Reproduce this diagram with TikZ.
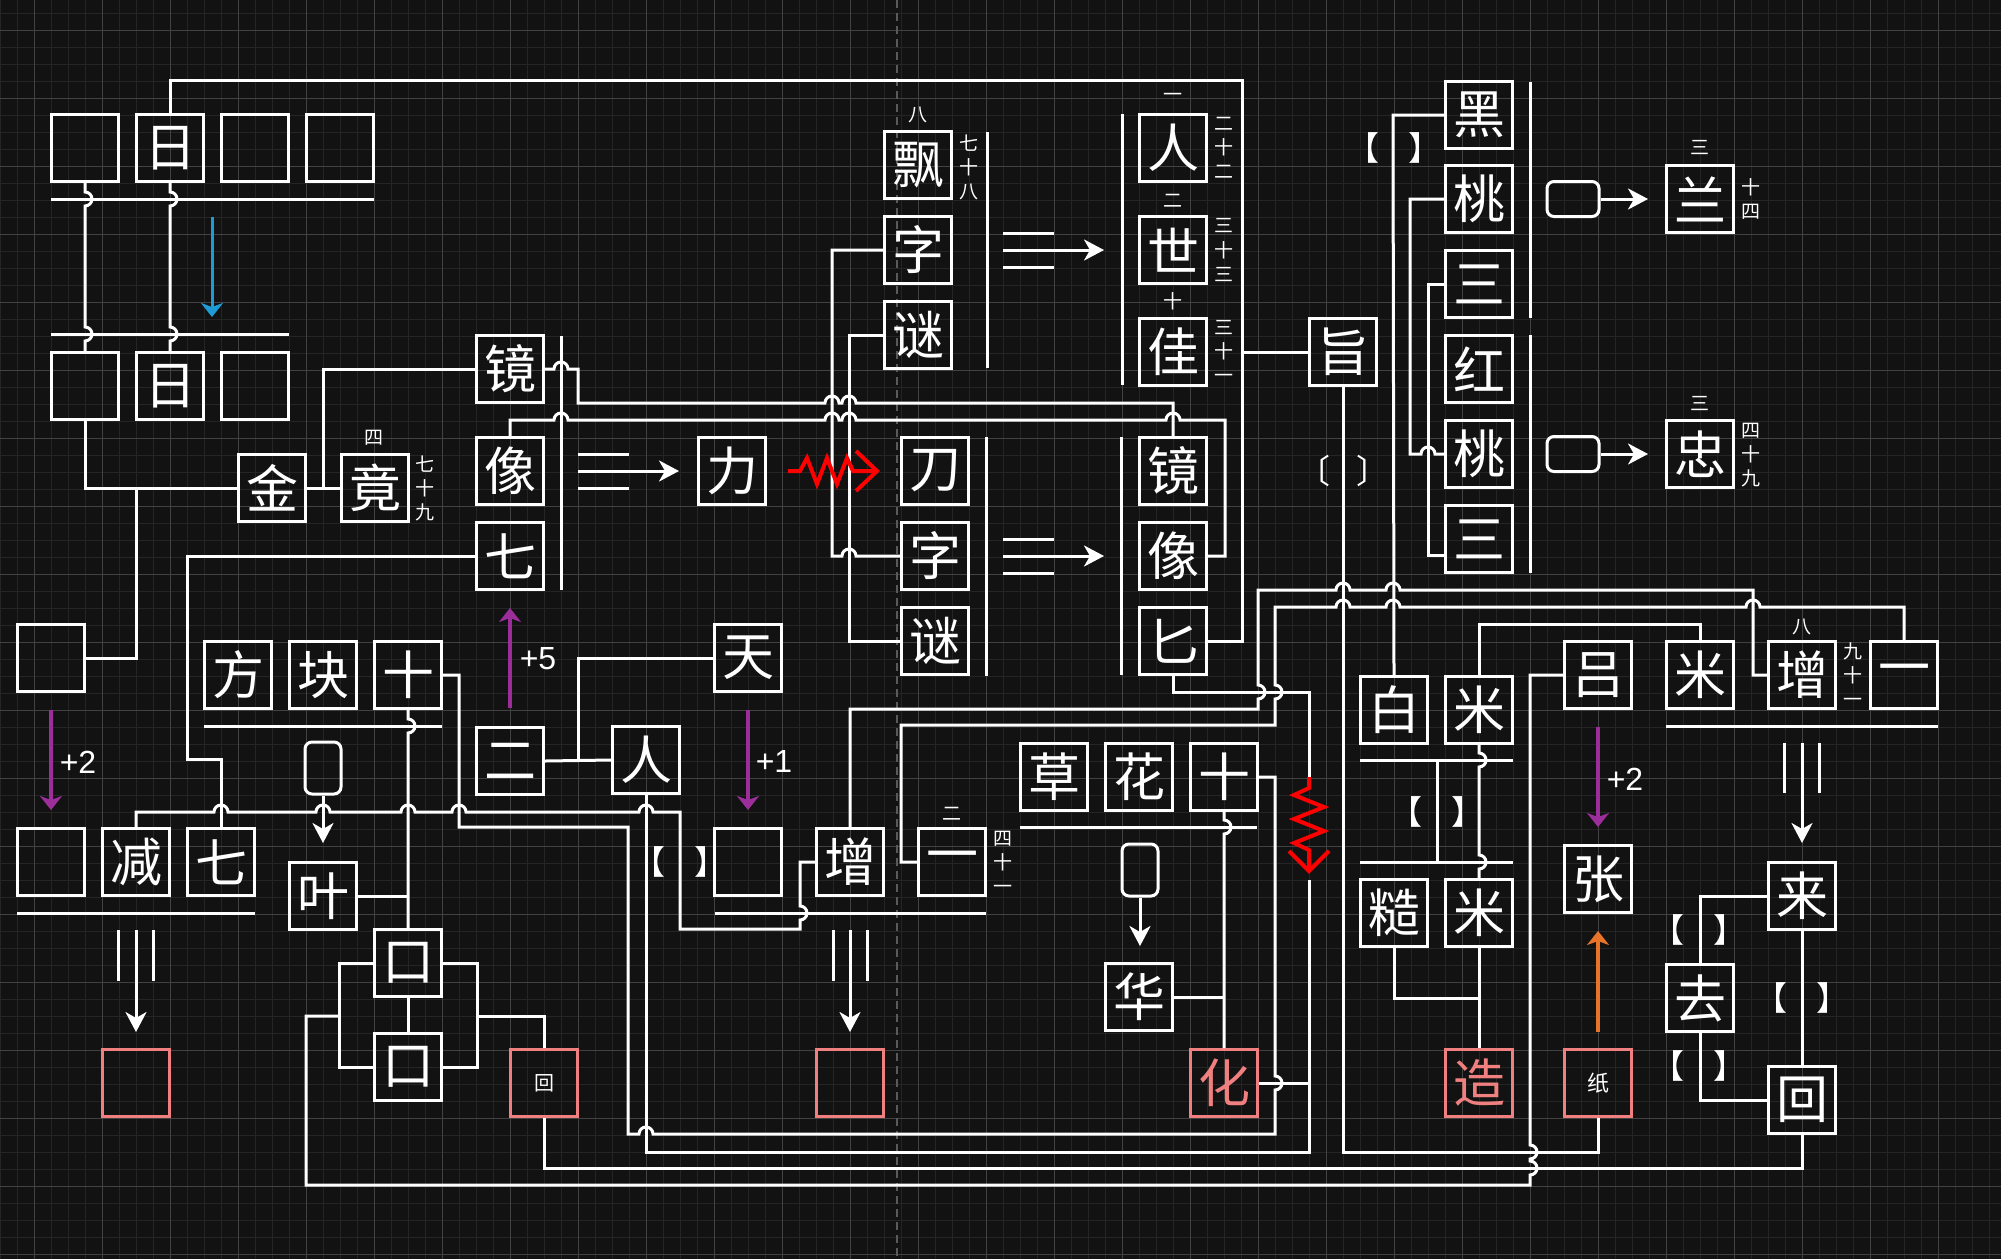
\documentclass[tikz,border=0pt]{standalone}
\usepackage{fontspec}
\setmainfont{Noto Sans CJK SC}
\newfontfamily\latf{Liberation Sans}
\usetikzlibrary{arrows.meta}
\definecolor{bgc}{HTML}{121212}
\definecolor{gmin}{HTML}{252525}
\definecolor{gmaj}{HTML}{424242}
\definecolor{dashc}{HTML}{5A5A5A}
\definecolor{pinkc}{HTML}{F08080}
\definecolor{purc}{HTML}{9C2E9C}
\definecolor{bluc}{HTML}{1E9BD7}
\definecolor{orac}{HTML}{E8742A}
\definecolor{redc}{HTML}{FF0000}
\newcommand\hjR{arc[start angle=180,end angle=360,radius=7]}
\newcommand\vjD{arc[start angle=-90,end angle=90,radius=7]}
\newcommand\vjU{arc[start angle=90,end angle=-90,radius=7]}
\begin{document}
\begin{tikzpicture}[x=1pt,y=-1pt,
 bx/.style={draw=white,line width=3pt,minimum size=67pt,inner sep=0pt,text=white,font=\fontsize{52}{52}\selectfont},
 pk/.style={bx,draw=pinkc},
 rr/.style={draw=white,line width=3pt,rounded corners=7pt,inner sep=0pt},
 rv/.style={rr,minimum width=36pt,minimum height=52pt},
 rh/.style={rr,minimum width=52pt,minimum height=35pt},
 ln/.style={draw=white,line width=3pt},
 ar/.style={draw=white,line width=3pt,-{Stealth[length=20pt,width=21pt,inset=6pt]}},
 car/.style={line width=4pt,-{Stealth[length=14pt,width=22pt,inset=4pt]}},
 lab/.style={text=white,font=\fontsize{19}{24}\selectfont,align=center,inner sep=0pt},
 pl/.style={text=white,font=\latf\fontsize{32}{32}\selectfont,inner sep=0pt},
 bk/.style={text=white,font=\fontsize{33}{33}\selectfont,inner sep=0pt},
 zz/.style={draw=redc,line width=4pt},
]
\useasboundingbox (0,0) rectangle (2001,1259);
\fill[bgc] (0,0) rectangle (2001,1259);
\foreach \i in {0,...,117} \draw[gmin,line width=1pt] ({17*\i},0) -- ({17*\i},1259);
\foreach \j in {0,...,73} \draw[gmin,line width=1pt] (0,{13+17*\j}) -- (2001,{13+17*\j});
\foreach \i in {0,...,28} \draw[gmaj,line width=1pt] ({34+68*\i},0) -- ({34+68*\i},1259);
\foreach \j in {0,...,18} \draw[gmaj,line width=1pt] (0,{30+68*\j}) -- (2001,{30+68*\j});
\draw[dashc,line width=1.5pt,dash pattern=on 8pt off 5pt] (897,0) -- (897,1259);

% ---------- nodes ----------
\node[bx] (t1) at (85,148) {};
\node[bx] (t2) at (170,148) {日};
\node[bx] (t3) at (255,148) {};
\node[bx] (t4) at (340,148) {};
\node[bx] (s1) at (85,386) {};
\node[bx] (s2) at (170,386) {日};
\node[bx] (s3) at (255,386) {};
\node[bx] (jin) at (272,488) {金};
\node[bx] (jing) at (375,488) {竟};
\node[bx] (jingL) at (510,369) {镜};
\node[bx] (xiangL) at (510,471) {像};
\node[bx] (qiL) at (510,556) {七};
\node[bx] (e1) at (51,658) {};
\node[bx] (fang) at (238,675) {方};
\node[bx] (kuai) at (323,675) {块};
\node[bx] (shiL) at (408,675) {十};
\node[rv] (r1) at (323,768) {};
\node[bx] (ye) at (323,896) {叶};
\node[bx] (er) at (510,761) {二};
\node[bx] (tian) at (748,658) {天};
\node[bx] (renL) at (646,760) {人};
\node[bx] (b1) at (51,862) {};
\node[bx] (jian) at (136,862) {减};
\node[bx] (qiB) at (221,862) {七};
\node[pk] (p1) at (136,1083) {};
\node[bx] (kouU) at (408,963) {口};
\node[bx] (kouD) at (408,1067) {口};
\node[pk,font=\fontsize{20}{20}\selectfont] (huiP) at (544,1083) {回};
\node[bx] (e2) at (748,862) {};
\node[bx] (zengB) at (850,862) {增};
\node[bx] (yiB) at (952,862) {一};
\node[pk] (p3) at (850,1083) {};
\node[bx] (li) at (732,471) {力};
\node[bx] (dao) at (935,471) {刀};
\node[bx] (ziL) at (935,556) {字};
\node[bx] (miL) at (935,641) {谜};
\node[bx] (piao) at (918,165) {飘};
\node[bx] (ziT) at (918,250) {字};
\node[bx] (miT) at (918,335) {谜};
\node[bx] (renR) at (1173,148) {人};
\node[bx] (shi4) at (1173,250) {世};
\node[bx] (jia) at (1173,352) {佳};
\node[bx] (zhi) at (1343,352) {旨};
\node[bx] (jingR) at (1173,471) {镜};
\node[bx] (xiangR) at (1173,556) {像};
\node[bx] (bi) at (1173,641) {匕};
\node[bx] (caoH) at (1054,777) {草};
\node[bx] (huaH) at (1139,777) {花};
\node[bx] (shiR) at (1224,777) {十};
\node[rv] (r2) at (1140,870) {};
\node[bx] (huaB) at (1139,997) {华};
\node[pk,text=pinkc] (hua2) at (1224,1083) {化};
\node[bx] (hei) at (1479,115) {黑};
\node[bx] (tao1) at (1479,199) {桃};
\node[bx] (san1) at (1479,284) {三};
\node[bx] (hong) at (1479,369) {红};
\node[bx] (tao2) at (1479,454) {桃};
\node[bx] (san2) at (1479,539) {三};
\node[rh] (r3) at (1573,199) {};
\node[bx] (lan) at (1700,199) {兰};
\node[rh] (r4) at (1573,454) {};
\node[bx] (zhong) at (1700,454) {忠};
\node[bx] (bai) at (1394,710) {白};
\node[bx] (mi1) at (1479,710) {米};
\node[bx] (cao) at (1394,913) {糙};
\node[bx] (mi3) at (1479,913) {米};
\node[pk,text=pinkc] (zao) at (1479,1083) {造};
\node[bx] (lv) at (1598,675) {吕};
\node[bx] (mi2) at (1700,675) {米};
\node[bx] (zengR) at (1802,675) {增};
\node[bx] (yiR) at (1904,675) {一};
\node[bx] (zhang) at (1598,879) {张};
\node[pk,font=\fontsize{22}{22}\selectfont] (zhiP) at (1598,1083) {纸};
\node[bx] (lai) at (1802,896) {来};
\node[bx] (qu) at (1700,998) {去};
\node[bx] (huiR) at (1802,1100) {回};

% ---------- small labels ----------
\node[lab] at (374,438) {四};
\node[lab] at (425,488) {七\\十\\九};
\node[lab] at (918,115) {八};
\node[lab] at (969,167) {七\\十\\八};
\node[lab] at (1173,97) {一};
\node[lab] at (1224,148) {二\\十\\二};
\node[lab] at (1173,201) {二};
\node[lab] at (1224,250) {三\\十\\三};
\node[lab] at (1173,301) {十};
\node[lab] at (1224,351) {三\\十\\一};
\node[lab] at (952,814) {二};
\node[lab] at (1003,862) {四\\十\\一};
\node[lab] at (1802,627) {八};
\node[lab] at (1853,675) {九\\十\\一};
\node[lab] at (1700,148) {三};
\node[lab] at (1751,199) {十\\四};
\node[lab] at (1700,403) {三};
\node[lab] at (1751,455) {四\\十\\九};
\node[pl] at (78,762) {+2};
\node[pl] at (538,659) {+5};
\node[pl] at (774,761) {+1};
\node[pl] at (1625,779) {+2};

% brackets
\node[bk] at (1363,148) {【}; \node[bk] at (1425,148) {】};
\node[bk] at (649,862) {【}; \node[bk] at (711,862) {】};
\node[bk] at (1406,812) {【}; \node[bk] at (1468,812) {】};
\node[bk] at (1668,930) {【}; \node[bk] at (1730,930) {】};
\node[bk] at (1771,998) {【}; \node[bk] at (1833,998) {】};
\node[bk] at (1668,1066) {【}; \node[bk] at (1730,1066) {】};
\node[bk] at (1314,471) {〔}; \node[bk] at (1373,471) {〕};

% ---------- group lines ----------
\draw[ln] (561,336) -- (561,590);
\draw[ln] (987,132) -- (987,368);
\draw[ln] (1122,114) -- (1122,385);
\draw[ln] (986,437) -- (986,676);
\draw[ln] (1121,437) -- (1121,675);
\draw[ln] (1530,82) -- (1530,318);
\draw[ln] (1530,335) -- (1530,573);
\draw[ln] (51,199) -- (374,199);
\draw[ln] (51,334) -- (289,334);
\draw[ln] (204,726) -- (442,726);
\draw[ln] (17,913) -- (255,913);
\draw[ln] (715,913) -- (986,913);
\draw[ln] (1020,827) -- (1257,827);
\draw[ln] (1360,760) -- (1513,760);
\draw[ln] (1360,862) -- (1513,862);
\draw[ln] (1666,726) -- (1938,726);

% ---------- connectors ----------
\draw[ln] (t2.north) -- (170,80) -- (1242,80) -- (1242,641) -- (bi.east);
\draw[ln] (t1.south) -- (85,192) \vjD -- (85,327) \vjD -- (s1.north);
\draw[ln] (t2.south) -- (170,192) \vjD -- (170,327) \vjD -- (s2.north);
\draw[ln] (s1.south) -- (85,488) -- (jin.west);
\draw[ln] (136,488) -- (136,658) -- (e1.east);
\draw[ln] (jin.east) -- (jing.west);
\draw[ln] (jingL.west) -- (323,369) -- (323,488);
\draw[ln] (jingL.east) -- (554,369) \hjR -- (578,369) -- (578,403) -- (825,403) \hjR -- (842,403) \hjR -- (1173,403) -- (jingR.north);
\draw[ln] (xiangL.north) -- (510,420) -- (554,420) \hjR -- (825,420) \hjR -- (842,420) \hjR -- (1166,420) \hjR -- (1225,420) -- (1225,556) -- (xiangR.east);
\draw[ln] (qiL.west) -- (187,556) -- (187,759) -- (221,759) -- (qiB.north);
\draw[ln] (jian.north) -- (136,812) -- (214,812) \hjR -- (316,812) \hjR -- (401,812) \hjR -- (452,812) \hjR -- (639,812) \hjR -- (680,812) -- (680,929) -- (800,929) -- (800,920) \vjU -- (800,862) -- (zengB.west);
\draw[ln] (shiL.east) -- (459,675) -- (459,827) -- (628,827) -- (628,1134) -- (639,1134) \hjR -- (1275,1134) -- (1275,1090) \vjU -- (1275,777) -- (shiR.east);
\draw[ln] (renL.south) -- (646,1152) -- (1309,1152) -- (1309,880);
\draw[ln] (bi.south) -- (1173,692) -- (1309,692) -- (1309,777);
\draw[ln] (hua2.east) -- (1309,1083);
\draw[ln] (shiR.south) -- (1224,820) \vjD -- (hua2.north);
\draw[ln] (huaB.east) -- (1224,997);
\draw[ar] (r2.south) -- (1140,946);
\draw[ln] (zengB.north) -- (850,709) -- (1258,709) -- (1258,699) \vjU -- (1258,590) -- (1336,590) \hjR -- (1386,590) \hjR -- (1753,590) -- (1753,675) -- (zengR.west);
\draw[ln] (yiB.west) -- (901,862) -- (901,725) -- (1275,725) -- (1275,699) \vjU -- (1275,607) -- (1336,607) \hjR -- (1386,607) \hjR -- (1746,607) \hjR -- (1904,607) -- (yiR.north);
\draw[ln] (ziT.west) -- (832,250) -- (832,556) -- (842,556) \hjR -- (ziL.west);
\draw[ln] (miT.west) -- (849,335) -- (849,641) -- (miL.west);
\draw[ln] (zhi.west) -- (1242,352);
\draw[ln] (zhi.south) -- (1343,1152) -- (1598,1152) -- (zhiP.south);
\draw[ln] (hei.west) -- (1393,115) -- (bai.north);
\draw[ln] (tao1.west) -- (1410,199) -- (1410,454) -- (1421,454) \hjR -- (tao2.west);
\draw[ln] (san1.west) -- (1428,284) -- (1428,555) -- (san2.west |- 1428,555);
\draw[ln] (mi2.north) -- (1700,624) -- (1479,624) -- (mi1.north);
\draw[ln] (mi1.south) -- (1479,753) \vjD -- (1479,855) \vjD -- (mi3.north);
\draw[ln] (1437,760) -- (1437,862);
\draw[ln] (cao.south) -- (1394,998) -- (1479,998);
\draw[ln] (mi3.south) -- (zao.north);
\draw[ln] (lv.west) -- (1530,675) -- (1530,1145) \vjD -- (1530,1161) \vjD -- (1530,1185) -- (306,1185) -- (306,1016) -- (339,1016);
\draw[ln] (kouU.west) -- (339,963) -- (339,1067) -- (kouD.west);
\draw[ln] (kouU.east) -- (477,963) -- (477,1067) -- (kouD.east);
\draw[ln] (477,1016) -- (544,1016) -- (huiP.north);
\draw[ln] (kouU.south) -- (kouD.north);
\draw[ln] (huiP.south) -- (544,1168) -- (1802,1168) -- (huiR.south);
\draw[ln] (lai.west) -- (1700,896) -- (qu.north);
\draw[ln] (qu.south) -- (1700,1100) -- (huiR.west);
\draw[ln] (lai.south) -- (huiR.north);
\draw[ln] (shiL.south) -- (408,719) \vjD -- (kouU.north);
\draw[ln] (ye.east) -- (408,896);
\draw[ar] (r1.south) -- (323,843);
\draw[ln] (er.east) -- (renL.west);
\draw[ln] (578,761) -- (578,658) -- (tian.west);
\draw[ar] (r3.east) -- (1648,199);
\draw[ar] (r4.east) -- (1648,454);

% ---------- triple arrows ----------
\draw[ln] (578,454) -- (629,454); \draw[ln] (578,488) -- (629,488); \draw[ar] (578,471) -- (679,471);
\draw[ln] (1003,233) -- (1054,233); \draw[ln] (1003,267) -- (1054,267); \draw[ar] (1003,250) -- (1104,250);
\draw[ln] (1003,539) -- (1054,539); \draw[ln] (1003,573) -- (1054,573); \draw[ar] (1003,556) -- (1104,556);
\draw[ln] (118,930) -- (118,981); \draw[ln] (153,930) -- (153,981); \draw[ar] (136,930) -- (136,1032);
\draw[ln] (833,930) -- (833,981); \draw[ln] (867,930) -- (867,981); \draw[ar] (850,930) -- (850,1032);
\draw[ln] (1784,743) -- (1784,793); \draw[ln] (1819,743) -- (1819,793); \draw[ar] (1802,743) -- (1802,843);

% ---------- coloured arrows ----------
\draw[car,bluc,line width=3pt] (212,217) -- (212,317);
\draw[car,purc] (51,710) -- (51,810);
\draw[car,purc] (510,708) -- (510,608);
\draw[car,purc] (748,710) -- (748,810);
\draw[car,purc] (1598,727) -- (1598,827);
\draw[car,orac] (1598,1032) -- (1598,931);

% ---------- red zigzags ----------
\draw[zz] (788,471) -- (800,471) -- (807,458) -- (817,484) -- (827,458) -- (837,484) -- (847,458) -- (853,471) -- (876,471);
\draw[zz] (856,451) -- (877,471) -- (856,491);
\draw[zz] (1309,777) -- (1309,788) -- (1294,795) -- (1324,807) -- (1294,819) -- (1324,831) -- (1294,843) -- (1309,850) -- (1309,870);
\draw[zz] (1289,851) -- (1309,871) -- (1329,851);
\end{tikzpicture}
\end{document}
